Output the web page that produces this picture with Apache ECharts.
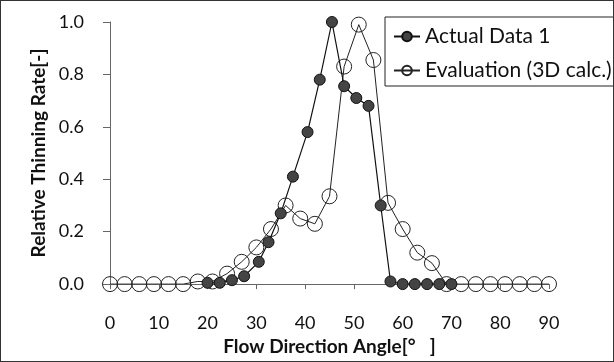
<!DOCTYPE html>
<html>
<head>
<meta charset="utf-8">
<script src="https://cdn.jsdelivr.net/npm/echarts@6/dist/echarts.min.js"></script>
<style>
  html, body { margin:0; padding:0; background:#fff; }
  #chart { width:614px; height:362px; box-sizing:border-box; border:1px solid #333; }
</style>
</head>
<body>
<div id="chart"></div>
<script>
// Actual Data 1 (filled markers)
const actualAngle = [20, 22.5, 25, 27.5, 30.5, 32.5, 35, 37.5, 40.5, 43, 45.5, 48, 50.5, 53, 55.5, 57.5, 60, 62.5, 65, 67.5, 70]
const actualRate = [0.005, 0.005, 0.015, 0.03, 0.085, 0.16, 0.27, 0.41, 0.58, 0.78, 1.0, 0.755, 0.71, 0.68, 0.30, 0.01, 0.0, 0.0, 0.0, 0.0, 0.0]

// Evaluation (3D calc.) (hollow markers)
const evalAngle = [0, 3, 6, 9, 12, 15, 18, 21, 24, 27, 30, 33, 36, 39, 42, 45, 48, 51, 54, 57, 60, 63, 66, 69, 72, 75, 78, 81, 84, 87, 90]
const evalRate = [0, 0, 0, 0, 0, 0, 0.01, 0.01, 0.04, 0.085, 0.14, 0.21, 0.30, 0.25, 0.23, 0.335, 0.83, 0.99, 0.855, 0.31, 0.21, 0.12, 0.08, 0, 0, 0, 0, 0, 0, 0, 0]

const xTicks = { min: 0, max: 90, interval: 10 }
const yTicks = { min: 0, max: 1, interval: 0.2 }

const font = 'Lato, "Open Sans", sans-serif'
const chart = echarts.init(document.getElementById('chart'))

chart.setOption({
  animation: false,
  textStyle: { fontFamily: font },
  grid: { left: 109, top: 21, width: 439, height: 267 },
  legend: {
    orient: 'vertical',
    left: 384, top: 16,
    padding: [9, 40, 5, 8],
    itemGap: 13,
    itemWidth: 26, itemHeight: 12,
    borderColor: '#222', borderWidth: 1,
    textStyle: { fontSize: 21, color: '#111', fontFamily: font },
    data: ['Actual Data 1', 'Evaluation (3D calc.)']
  },
  xAxis: {
    type: 'value',
    min: xTicks.min, max: xTicks.max, interval: xTicks.interval,
    name: 'Flow Direction Angle[°\u2003]',
    nameLocation: 'middle', nameGap: 51,
    nameTextStyle: { fontSize: 19, fontWeight: 'bold', color: '#111', fontFamily: font },
    axisLine: { lineStyle: { color: '#666' } },
    axisTick: { show: true, length: 5, lineStyle: { color: '#666' } },
    axisLabel: { fontSize: 18, color: '#111', margin: 30 },
    splitLine: { show: false }
  },
  yAxis: {
    type: 'value',
    min: yTicks.min, max: yTicks.max, interval: yTicks.interval,
    name: 'Relative Thinning Rate[-]',
    nameLocation: 'middle', nameGap: 60,
    nameTextStyle: { fontSize: 19, fontWeight: 'bold', color: '#111', fontFamily: font },
    axisLine: { show: true, lineStyle: { color: '#666' } },
    axisTick: { show: true, length: 7, lineStyle: { color: '#666' } },
    axisLabel: { fontSize: 18, color: '#111', margin: 26, formatter: v => v.toFixed(1) },
    splitLine: { show: false }
  },
  series: [
    {
      name: 'Evaluation (3D calc.)',
      type: 'line',
      data: evalAngle.map((a, i) => [a, evalRate[i]]),
      symbol: 'circle', symbolSize: 15,
      lineStyle: { color: '#222', width: 1 },
      itemStyle: { color: 'rgba(255,255,255,0)', borderColor: '#222', borderWidth: 1 },
      z: 2
    },
    {
      name: 'Actual Data 1',
      type: 'line',
      data: actualAngle.map((a, i) => [a, actualRate[i]]),
      symbol: 'circle', symbolSize: 11,
      lineStyle: { color: '#111', width: 1.2 },
      itemStyle: { color: '#444', borderColor: '#111', borderWidth: 1 },
      z: 3
    }
  ]
})
</script>
</body>
</html>
